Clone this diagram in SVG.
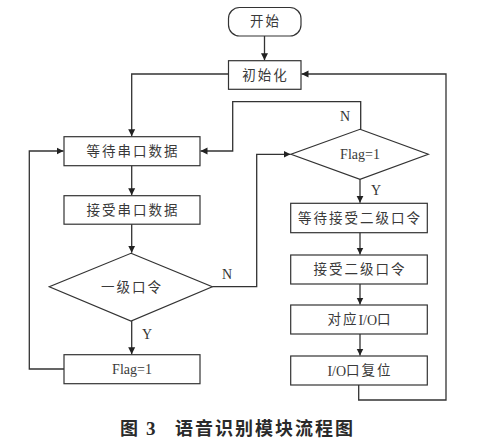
<svg xmlns="http://www.w3.org/2000/svg" width="495" height="445" viewBox="0 0 495 445">
<style>
.box{fill:#fff;stroke:#333;stroke-width:1.2}
.t{font-family:"Liberation Serif","Noto Sans CJK SC",serif;font-size:13.5px;fill:#3a3a3a;text-anchor:middle;dominant-baseline:central;letter-spacing:2px}
.nl{letter-spacing:0;font-size:14px}
.lab{font-family:"Liberation Serif",serif;font-size:14px;fill:#333}
.ln{fill:none;stroke:#333;stroke-width:1.3}
.cap{font-family:"Noto Sans CJK SC",sans-serif;font-size:18px;font-weight:bold;fill:#2a2a2a}
</style>
<defs>
<marker id="ah" markerWidth="8" markerHeight="8" refX="7" refY="4" orient="auto" markerUnits="userSpaceOnUse">
<path d="M0,0.5 L7,4 L0,7.5 Z" fill="#222"/>
</marker>
</defs>
<rect width="495" height="445" fill="#fff"/>
<g id="start"><rect class="box" x="228.5" y="7.5" width="72.5" height="28.5" rx="11"/><text class="t" x="265.5" y="21.5">开始</text></g>
<g id="init"><rect class="box" x="228.5" y="60.7" width="72.5" height="28.6"/><text class="t" x="265.5" y="75">初始化</text></g>
<g id="wait"><rect class="box" x="64" y="136.7" width="136" height="29"/><text class="t" x="133" y="151">等待串口数据</text></g>
<g id="recv"><rect class="box" x="64" y="195.7" width="136" height="28.5"/><text class="t" x="133" y="210">接受串口数据</text></g>
<g id="cmd1"><polygon class="box" points="131,253.3 212.3,286.7 131,321 49.3,286.7"/><text class="t" x="132" y="287">一级口令</text></g>
<g id="flagset"><rect class="box" x="64" y="354.7" width="136" height="29"/><text class="t nl" x="132" y="369">Flag=1</text></g>
<g id="flagchk"><polygon class="box" points="360,129.3 428.3,154.3 360,179.3 291,154.3"/><text class="t nl" x="360" y="154.5">Flag=1</text></g>
<g id="wait2"><rect class="box" x="290.7" y="203.3" width="136.6" height="29.4"/><text class="t" x="360" y="218">等待接受二级口令</text></g>
<g id="recv2"><rect class="box" x="290.7" y="255" width="136.6" height="29"/><text class="t" x="360" y="269.5">接受二级口令</text></g>
<g id="io"><rect class="box" x="290.7" y="305" width="136.6" height="29"/><text class="t" x="360" y="319.5">对应<tspan class="nl">I/O</tspan>口</text></g>
<g id="reset"><rect class="box" x="290.7" y="356" width="136.6" height="29"/><text class="t" x="360" y="370.5"><tspan class="nl">I/O</tspan>口复位</text></g>
<g id="connectors">
<path class="ln" d="M264.5,36 V60.2" marker-end="url(#ah)"/>
<path class="ln" d="M228.5,74 H131.7 V136.2" marker-end="url(#ah)"/>
<path class="ln" d="M131.7,165.7 V195.2" marker-end="url(#ah)"/>
<path class="ln" d="M131.7,224.2 V252.8" marker-end="url(#ah)"/>
<path class="ln" d="M131.7,321 V354.2" marker-end="url(#ah)"/>
<path class="ln" d="M64,369 H29.3 V151 H63.5" marker-end="url(#ah)"/>
<path class="ln" d="M360.7,129.3 V101.7 H232.7 V151 H200.5" marker-end="url(#ah)"/>
<path class="ln" d="M212.3,286.7 H256.7 V154.3 H290.5" marker-end="url(#ah)"/>
<path class="ln" d="M360,179.3 V202.8" marker-end="url(#ah)"/>
<path class="ln" d="M360,232.7 V254.5" marker-end="url(#ah)"/>
<path class="ln" d="M360,284 V304.5" marker-end="url(#ah)"/>
<path class="ln" d="M360,334 V355.5" marker-end="url(#ah)"/>
<path class="ln" d="M358.7,385 V400 H446 V74 H301.5" marker-end="url(#ah)"/>
</g>
<text class="lab" x="340" y="121">N</text>
<text class="lab" x="371" y="195">Y</text>
<text class="lab" x="222" y="279">N</text>
<text class="lab" x="142" y="339">Y</text>
<text class="cap" x="120" y="435">图<tspan x="146" font-family="Liberation Serif" font-size="19">3</tspan><tspan x="175" letter-spacing="2">语音识别模块流程图</tspan></text>
</svg>
